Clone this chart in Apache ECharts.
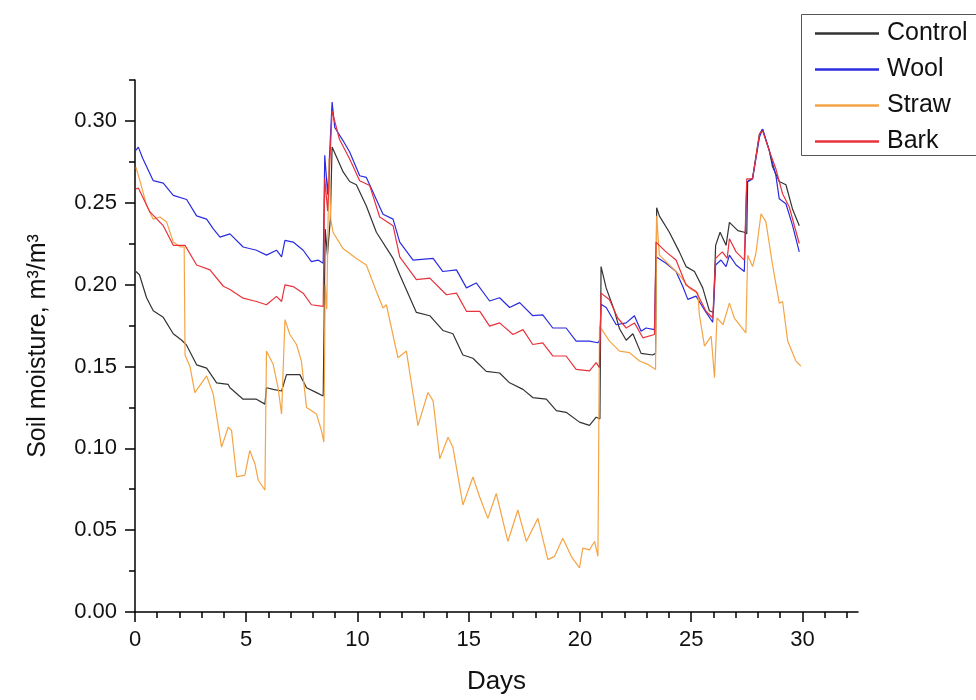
<!DOCTYPE html>
<html>
<head>
<meta charset="utf-8">
<script src="https://cdn.jsdelivr.net/npm/echarts@6/dist/echarts.min.js"></script>
<style>
html,body{margin:0;padding:0;background:#fff;}
#chart{width:976px;height:700px;}
</style>
</head>
<body>
<div id="chart"></div>
<script>
var seriesNames = ['Control', 'Wool', 'Straw', 'Bark'];
var xMajorTicks = [0, 5, 10, 15, 20, 25, 30];
var xMinorTicks = [1,2,3,4,6,7,8,9,11,12,13,14,16,17,18,19,21,22,23,24,26,27,28,29,31,32];
var yMajorTicks = [0, 0.05, 0.10, 0.15, 0.20, 0.25, 0.30];
var yMinorTicks = [0.025, 0.075, 0.125, 0.175, 0.225, 0.275, 0.325];

var controlData = [[0.04,0.208],[0.2,0.206],[0.52,0.192],[0.82,0.184],[1.27,0.180],[1.72,0.170],[2.1,0.166],[2.32,0.163],[2.77,0.151],[3.22,0.149],[3.67,0.140],[4.19,0.139],[4.27,0.137],[4.86,0.130],[5.46,0.130],[5.84,0.127],[5.91,0.137],[6.21,0.136],[6.59,0.135],[6.81,0.145],[7.41,0.145],[7.71,0.137],[8.16,0.134],[8.46,0.132],[8.5,0.132],[8.55,0.234],[8.65,0.218],[8.78,0.240],[8.86,0.284],[9.06,0.278],[9.35,0.269],[9.65,0.263],[9.95,0.261],[10.4,0.248],[10.85,0.232],[11.6,0.216],[11.9,0.206],[12.65,0.183],[13.25,0.181],[13.84,0.172],[14.29,0.170],[14.74,0.157],[15.19,0.155],[15.79,0.147],[16.39,0.146],[16.84,0.140],[17.44,0.136],[17.88,0.131],[18.49,0.130],[18.94,0.123],[19.38,0.122],[19.98,0.116],[20.43,0.114],[20.73,0.119],[20.9,0.118],[20.95,0.211],[21.18,0.198],[21.55,0.184],[21.78,0.173],[22.08,0.166],[22.38,0.170],[22.75,0.158],[23.27,0.157],[23.4,0.158],[23.45,0.247],[23.57,0.242],[24.02,0.232],[24.47,0.220],[24.77,0.211],[25.15,0.208],[25.52,0.198],[25.82,0.184],[26.0,0.183],[26.1,0.224],[26.3,0.232],[26.57,0.224],[26.72,0.238],[27.1,0.233],[27.39,0.232],[27.5,0.231],[27.54,0.263],[27.76,0.265],[28.07,0.292],[28.21,0.295],[28.51,0.282],[28.66,0.272],[28.96,0.263],[29.26,0.261],[29.56,0.246],[29.86,0.236]];

var woolData = [[0.04,0.282],[0.15,0.284],[0.35,0.277],[0.82,0.2635],[1.27,0.262],[1.72,0.2545],[2.32,0.252],[2.77,0.242],[3.22,0.240],[3.52,0.234],[3.82,0.229],[4.27,0.231],[4.86,0.223],[5.46,0.221],[5.91,0.218],[6.36,0.221],[6.59,0.217],[6.74,0.227],[7.11,0.226],[7.56,0.221],[7.93,0.214],[8.23,0.215],[8.46,0.213],[8.53,0.279],[8.66,0.255],[8.86,0.3115],[8.98,0.296],[9.35,0.288],[9.65,0.281],[10.1,0.2665],[10.4,0.2655],[10.7,0.2565],[11.15,0.243],[11.6,0.240],[11.9,0.226],[12.5,0.215],[13.4,0.216],[13.84,0.208],[14.45,0.209],[14.9,0.198],[15.34,0.201],[15.94,0.190],[16.39,0.192],[16.84,0.186],[17.29,0.189],[17.88,0.181],[18.33,0.1815],[18.78,0.1735],[19.38,0.1735],[19.83,0.1655],[20.43,0.1655],[20.8,0.1645],[20.9,0.166],[20.95,0.188],[21.18,0.186],[21.63,0.1755],[22.08,0.1766],[22.45,0.181],[22.75,0.1715],[22.97,0.1735],[23.35,0.1725],[23.42,0.217],[23.87,0.213],[24.32,0.208],[24.62,0.199],[24.85,0.191],[25.22,0.193],[25.67,0.183],[25.97,0.177],[26.1,0.212],[26.34,0.215],[26.57,0.211],[26.72,0.218],[27.02,0.212],[27.39,0.208],[27.46,0.209],[27.5,0.2626],[27.76,0.2646],[28.07,0.290],[28.21,0.295],[28.51,0.282],[28.81,0.2666],[28.96,0.2524],[29.26,0.2494],[29.56,0.236],[29.86,0.220]];

var strawData = [[0.04,0.2717],[0.22,0.2635],[0.52,0.2484],[0.82,0.240],[1.12,0.2413],[1.42,0.2383],[1.72,0.226],[2.02,0.2231],[2.21,0.2231],[2.25,0.157],[2.47,0.150],[2.69,0.134],[3.22,0.1442],[3.52,0.133],[3.89,0.1007],[4.19,0.1129],[4.34,0.1109],[4.57,0.0825],[4.94,0.0836],[5.16,0.0987],[5.39,0.0906],[5.54,0.0805],[5.84,0.0745],[5.91,0.1594],[6.21,0.1513],[6.43,0.137],[6.59,0.1209],[6.74,0.1786],[6.96,0.1695],[7.26,0.1634],[7.48,0.1533],[7.71,0.125],[8.16,0.1209],[8.38,0.1109],[8.49,0.1038],[8.55,0.200],[8.62,0.185],[8.72,0.277],[8.8,0.240],[8.9,0.232],[9.35,0.222],[9.95,0.216],[10.4,0.212],[10.85,0.1958],[11.15,0.1857],[11.3,0.1877],[11.82,0.1553],[12.2,0.1594],[12.72,0.1139],[13.17,0.1341],[13.4,0.129],[13.7,0.0936],[14.07,0.1068],[14.29,0.1007],[14.74,0.0654],[15.19,0.0825],[15.49,0.0704],[15.86,0.0572],[16.24,0.0724],[16.76,0.0431],[17.21,0.0623],[17.59,0.0431],[18.11,0.0572],[18.56,0.032],[18.86,0.034],[19.23,0.0451],[19.61,0.034],[19.98,0.0269],[20.13,0.039],[20.43,0.038],[20.66,0.0431],[20.81,0.034],[20.88,0.1746],[21.33,0.1655],[21.78,0.1594],[22.23,0.1584],[22.68,0.1533],[23.05,0.1513],[23.4,0.1482],[23.45,0.242],[23.57,0.218],[24.02,0.212],[24.47,0.206],[24.92,0.1978],[25.3,0.1948],[25.37,0.1816],[25.6,0.1624],[25.9,0.1685],[26.05,0.1432],[26.16,0.1796],[26.43,0.1755],[26.72,0.1887],[26.94,0.1796],[27.46,0.1705],[27.54,0.218],[27.76,0.211],[27.91,0.219],[28.14,0.2433],[28.36,0.2383],[28.66,0.212],[28.96,0.1887],[29.11,0.1897],[29.34,0.1655],[29.71,0.1533],[29.93,0.1503]];

var barkData = [[0.04,0.2585],[0.15,0.259],[0.67,0.2444],[1.27,0.236],[1.72,0.224],[2.25,0.224],[2.77,0.212],[3.37,0.209],[3.97,0.199],[4.27,0.197],[4.86,0.1917],[5.46,0.1897],[5.91,0.1877],[6.36,0.1928],[6.59,0.1897],[6.74,0.1998],[7.11,0.1988],[7.56,0.1948],[7.93,0.1877],[8.46,0.1867],[8.53,0.265],[8.66,0.245],[8.86,0.306],[9.19,0.2888],[9.65,0.2767],[10.1,0.2635],[10.55,0.2605],[11.0,0.2413],[11.6,0.236],[11.9,0.217],[12.65,0.203],[13.25,0.204],[14.0,0.1938],[14.45,0.1948],[14.9,0.1837],[15.5,0.1837],[15.94,0.1746],[16.39,0.1766],[16.99,0.1695],[17.44,0.1725],[17.88,0.1634],[18.33,0.1644],[18.78,0.1564],[19.38,0.1564],[19.83,0.1482],[20.43,0.1473],[20.73,0.1523],[20.88,0.1493],[20.95,0.1948],[21.33,0.1907],[21.7,0.1796],[22.08,0.1735],[22.45,0.1766],[22.83,0.1675],[23.35,0.1695],[23.42,0.226],[23.87,0.220],[24.32,0.215],[24.77,0.1998],[25.22,0.1958],[25.67,0.1837],[25.97,0.1796],[26.1,0.216],[26.4,0.220],[26.62,0.216],[26.72,0.228],[27.02,0.220],[27.39,0.215],[27.46,0.216],[27.5,0.2646],[27.76,0.2646],[28.07,0.2919],[28.21,0.2939],[28.51,0.282],[28.81,0.2706],[29.11,0.2555],[29.41,0.2474],[29.86,0.2251]];

var seriesColors = ['#333333', '#2b2be0', '#f5a445', '#e8323c'];
var allData = [controlData, woolData, strawData, barkData];

var chart = echarts.init(document.getElementById('chart'), null, {renderer: 'canvas'});
var FONT = 'Liberation Sans, Arial, sans-serif';

var option = {
  animation: false,
  backgroundColor: '#ffffff',
  color: seriesColors,
  grid: {left: 135, right: 118, top: 80, bottom: 84, containLabel: false},
  graphic: [{
    type: 'rect', silent: true, z: 0,
    shape: {x: 801.5, y: 14.5, width: 220, height: 141},
    style: {fill: 'none', stroke: '#555555', lineWidth: 1}
  }],
  legend: {
    data: seriesNames,
    orient: 'vertical',
    left: 801,
    top: 14,
    padding: [7, 0, 5, 14],
    itemGap: 11,
    itemWidth: 64,
    itemHeight: 14,
    borderWidth: 0,
    icon: 'path://M0,0 L100,0 L100,4 L0,4 Z',
    textStyle: {fontFamily: FONT, fontSize: 25, color: '#111', padding: [0, 0, 0, 3]}
  },
  xAxis: [{
    type: 'value', min: 0, max: 32.5,
    name: 'Days', nameLocation: 'middle', nameGap: 57,
    nameTextStyle: {fontFamily: FONT, fontSize: 26, color: '#111'},
    axisLine: {show: true, onZero: false, lineStyle: {color: '#000', width: 1.5}},
    axisTick: {show: true, inside: false, length: 10, customValues: xMajorTicks, lineStyle: {color: '#000', width: 1.5}},
    axisLabel: {show: true, margin: 17, customValues: xMajorTicks, fontFamily: FONT, fontSize: 22, color: '#111'},
    splitLine: {show: false}
  }, {
    type: 'value', min: 0, max: 32.5, position: 'bottom', gridIndex: 0,
    axisLine: {show: false, onZero: false},
    axisTick: {show: true, inside: false, length: 6, customValues: xMinorTicks, lineStyle: {color: '#000', width: 1.5}},
    axisLabel: {show: false},
    splitLine: {show: false}
  }],
  yAxis: [{
    type: 'value', min: 0, max: 0.325,
    name: 'Soil moisture, m\u00B3/m\u00B3', nameLocation: 'middle', nameGap: 84, nameRotate: 90,
    nameTextStyle: {fontFamily: FONT, fontSize: 25, color: '#111'},
    axisLine: {show: true, onZero: false, lineStyle: {color: '#000', width: 1.5}},
    axisTick: {show: true, inside: false, length: 10, customValues: yMajorTicks, lineStyle: {color: '#000', width: 1.5}},
    axisLabel: {show: true, margin: 18, customValues: yMajorTicks, fontFamily: FONT, fontSize: 22, color: '#111',
      formatter: function (v) { return v.toFixed(2); }},
    splitLine: {show: false}
  }, {
    type: 'value', min: 0, max: 0.325, position: 'left', gridIndex: 0,
    axisLine: {show: false, onZero: false},
    axisTick: {show: true, inside: false, length: 6, customValues: yMinorTicks, lineStyle: {color: '#000', width: 1.5}},
    axisLabel: {show: false},
    splitLine: {show: false}
  }],
  series: seriesNames.map(function (name, i) {
    return {
      name: name,
      type: 'line',
      xAxisIndex: 0,
      yAxisIndex: 0,
      data: allData[i],
      symbol: 'none',
      showSymbol: false,
      smooth: false,
      lineStyle: {color: seriesColors[i], width: 1.2},
      itemStyle: {color: seriesColors[i]}
    };
  })
};
chart.setOption(option);
</script>
</body>
</html>
